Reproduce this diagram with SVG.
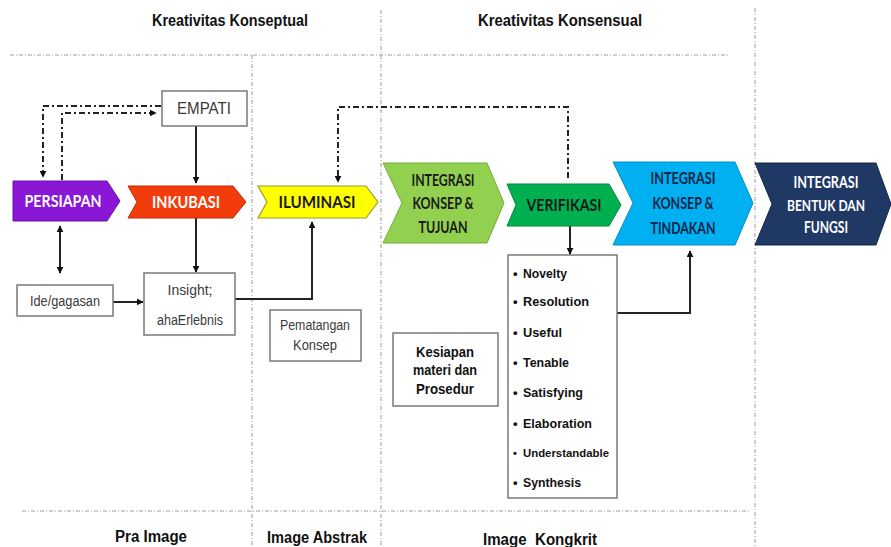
<svg xmlns="http://www.w3.org/2000/svg" width="891" height="547" viewBox="0 0 891 547">
<defs>
<marker id="ah" viewBox="0 0 10 10" refX="9" refY="5" markerWidth="7" markerHeight="7" markerUnits="userSpaceOnUse" orient="auto-start-reverse">
<path d="M0,0 L10,5 L0,10 z" fill="#111"/>
</marker>
<style>
.sep{stroke:#9a9a9a;stroke-width:1;stroke-dasharray:4 2 1 2;fill:none}
.ln{stroke:#222;stroke-width:2;fill:none}
.dd{stroke:#222;stroke-width:2;fill:none;stroke-dasharray:6 3 2 3}
.box{fill:#fff;stroke:#7a7a7a;stroke-width:1.5}
.bt{font-family:"Liberation Sans",Arial,sans-serif;font-size:14px;fill:#3a3a3a;text-anchor:middle}
.bb{font-family:"Liberation Sans",Arial,sans-serif;font-size:14px;font-weight:bold;fill:#111;text-anchor:middle}
.li{font-family:"Liberation Sans",Arial,sans-serif;font-size:13px;font-weight:bold;fill:#111}
.ch{font-family:Lato,"Open Sans",sans-serif;font-size:17px;font-weight:bold;text-anchor:middle}
.ttl{font-family:"Liberation Sans",Arial,sans-serif;font-size:16px;font-weight:bold;fill:#111;text-anchor:middle}
.w{fill:#fff}
.d{fill:#1a1a1a}
.n{fill:#10264a}
</style>
</defs>

<g id="separators">
<line class="sep" x1="10" y1="55" x2="730" y2="55"/>
<line class="sep" x1="22" y1="511" x2="750" y2="511"/>
<line class="sep" x1="252" y1="55" x2="252" y2="547"/>
<line class="sep" x1="381" y1="10" x2="381" y2="547"/>
<line class="sep" x1="755" y1="8" x2="755" y2="547"/>
</g>

<g id="titles">
<text class="ttl" x="230" y="26" textLength="156" lengthAdjust="spacingAndGlyphs">Kreativitas Konseptual</text>
<text class="ttl" x="560" y="26" textLength="164" lengthAdjust="spacingAndGlyphs">Kreativitas Konsensual</text>
<text class="ttl" x="151" y="542" textLength="72" lengthAdjust="spacingAndGlyphs">Pra Image</text>
<text class="ttl" x="317" y="543" textLength="100" lengthAdjust="spacingAndGlyphs">Image Abstrak</text>
<text class="ttl" x="540" y="545" xml:space="preserve" textLength="114" lengthAdjust="spacingAndGlyphs">Image  Kongkrit</text>
</g>

<g id="connectors">
<line class="ln" x1="196" y1="126" x2="196" y2="183" marker-end="url(#ah)"/>
<line class="ln" x1="196" y1="218" x2="196" y2="272" marker-end="url(#ah)"/>
<line class="ln" x1="60" y1="226" x2="60" y2="273" marker-start="url(#ah)" marker-end="url(#ah)"/>
<line class="ln" x1="113" y1="302" x2="143" y2="302" marker-end="url(#ah)"/>
<polyline class="ln" points="235,299 312,299 312,222" marker-end="url(#ah)"/>
<line class="ln" x1="570" y1="226" x2="570" y2="254" marker-end="url(#ah)"/>
<polyline class="ln" points="617,313 690,313 690,251" marker-end="url(#ah)"/>
<polyline class="dd" points="161,106 43,106 43,177" marker-end="url(#ah)"/>
<polyline class="dd" points="62,180 62,113 156,113" marker-end="url(#ah)"/>
<polyline class="dd" points="568,178 568,107 338,107 338,182" marker-end="url(#ah)"/>
</g>

<g id="empati">
<rect class="box" x="162" y="91" width="85" height="35"/>
<text class="bt" x="204" y="114" style="font-size:17px" textLength="54" lengthAdjust="spacingAndGlyphs">EMPATI</text>
</g>

<g id="persiapan">
<polygon points="13,181 107,181 120,201 107,221 13,221" fill="#8A17D6" stroke="#6d10aa" stroke-width="1"/>
<text class="ch w" x="63" y="207" textLength="77" lengthAdjust="spacingAndGlyphs">PERSIAPAN</text>
</g>

<g id="inkubasi">
<polygon points="128,186 233,186 246,202 233,218 128,218 137,202" fill="#F23C0C" stroke="#c02c06" stroke-width="1"/>
<text class="ch w" x="186" y="208" textLength="68" lengthAdjust="spacingAndGlyphs">INKUBASI</text>
</g>

<g id="iluminasi">
<polygon points="258,186 366,186 378,202 366,218 258,218 267,202" fill="#FFFF00" stroke="#9a9a30" stroke-width="1.2"/>
<text class="ch d" x="317" y="208" textLength="77" lengthAdjust="spacingAndGlyphs">ILUMINASI</text>
</g>

<g id="tujuan">
<polygon points="383,163 487,163 504,203 487,243 383,243 402,203" fill="#92D050" stroke="#77ab3c" stroke-width="1"/>
<text class="ch d" x="443" y="186" textLength="63" lengthAdjust="spacingAndGlyphs">INTEGRASI</text>
<text class="ch d" x="443" y="209" textLength="61" lengthAdjust="spacingAndGlyphs">KONSEP &amp;</text>
<text class="ch d" x="443" y="233" textLength="49" lengthAdjust="spacingAndGlyphs">TUJUAN</text>
</g>

<g id="verifikasi">
<polygon points="507,184 609,184 621,205 609,226 507,226 516,205" fill="#00B050" stroke="#00883c" stroke-width="1"/>
<text class="ch d" x="564" y="211" textLength="75" lengthAdjust="spacingAndGlyphs">VERIFIKASI</text>
</g>

<g id="tindakan">
<polygon points="613,162 735,162 753,203 735,245 613,245 633,203" fill="#00B0F0" stroke="#0090c8" stroke-width="1"/>
<text class="ch n" x="683" y="184" textLength="65" lengthAdjust="spacingAndGlyphs">INTEGRASI</text>
<text class="ch n" x="683" y="209" textLength="61" lengthAdjust="spacingAndGlyphs">KONSEP &amp;</text>
<text class="ch n" x="683" y="234" textLength="65" lengthAdjust="spacingAndGlyphs">TINDAKAN</text>
</g>

<g id="bentuk">
<polygon points="755,163 876,163 891,204 876,245 755,245 772,204" fill="#1F3864" stroke="#152848" stroke-width="1"/>
<text class="ch w" x="826" y="188" textLength="65" lengthAdjust="spacingAndGlyphs">INTEGRASI</text>
<text class="ch w" x="826" y="211" style="font-size:16px" textLength="78" lengthAdjust="spacingAndGlyphs">BENTUK DAN</text>
<text class="ch w" x="826" y="233" textLength="44" lengthAdjust="spacingAndGlyphs">FUNGSI</text>
</g>

<g id="ide">
<rect class="box" x="17" y="285" width="96" height="31"/>
<text class="bt" x="65" y="306" textLength="70" lengthAdjust="spacingAndGlyphs">Ide/gagasan</text>
</g>

<g id="insight">
<rect class="box" x="144" y="273" width="91" height="62"/>
<text class="bt" x="190" y="295" textLength="45" lengthAdjust="spacingAndGlyphs">Insight;</text>
<text class="bt" x="190" y="325" textLength="66" lengthAdjust="spacingAndGlyphs">ahaErlebnis</text>
</g>

<g id="pematangan">
<rect class="box" x="270" y="310" width="91" height="51"/>
<text class="bt" x="315" y="330" textLength="70" lengthAdjust="spacingAndGlyphs">Pematangan</text>
<text class="bt" x="315" y="350" textLength="44" lengthAdjust="spacingAndGlyphs">Konsep</text>
</g>

<g id="kesiapan">
<rect class="box" x="393" y="333" width="105" height="73"/>
<text class="bb" x="445" y="357" textLength="58" lengthAdjust="spacingAndGlyphs">Kesiapan</text>
<text class="bb" x="445" y="375" textLength="64" lengthAdjust="spacingAndGlyphs">materi dan</text>
<text class="bb" x="445" y="394" textLength="58" lengthAdjust="spacingAndGlyphs">Prosedur</text>
</g>

<g id="kriteria">
<rect class="box" x="508" y="255" width="109" height="243"/>
<text class="li" x="513" y="278">•</text><text class="li" x="523" y="278" textLength="44" lengthAdjust="spacingAndGlyphs">Novelty</text>
<text class="li" x="513" y="306">•</text><text class="li" x="523" y="306" textLength="66" lengthAdjust="spacingAndGlyphs">Resolution</text>
<text class="li" x="513" y="337">•</text><text class="li" x="523" y="337" textLength="39" lengthAdjust="spacingAndGlyphs">Useful</text>
<text class="li" x="513" y="367">•</text><text class="li" x="523" y="367" textLength="46" lengthAdjust="spacingAndGlyphs">Tenable</text>
<text class="li" x="513" y="397">•</text><text class="li" x="523" y="397" textLength="60" lengthAdjust="spacingAndGlyphs">Satisfying</text>
<text class="li" x="513" y="428">•</text><text class="li" x="523" y="428" textLength="69" lengthAdjust="spacingAndGlyphs">Elaboration</text>
<text class="li" x="513" y="457" style="font-size:11px">•</text><text class="li" x="523" y="457" style="font-size:11px" textLength="86" lengthAdjust="spacingAndGlyphs">Understandable</text>
<text class="li" x="513" y="487">•</text><text class="li" x="523" y="487" textLength="58" lengthAdjust="spacingAndGlyphs">Synthesis</text>
</g>
</svg>
